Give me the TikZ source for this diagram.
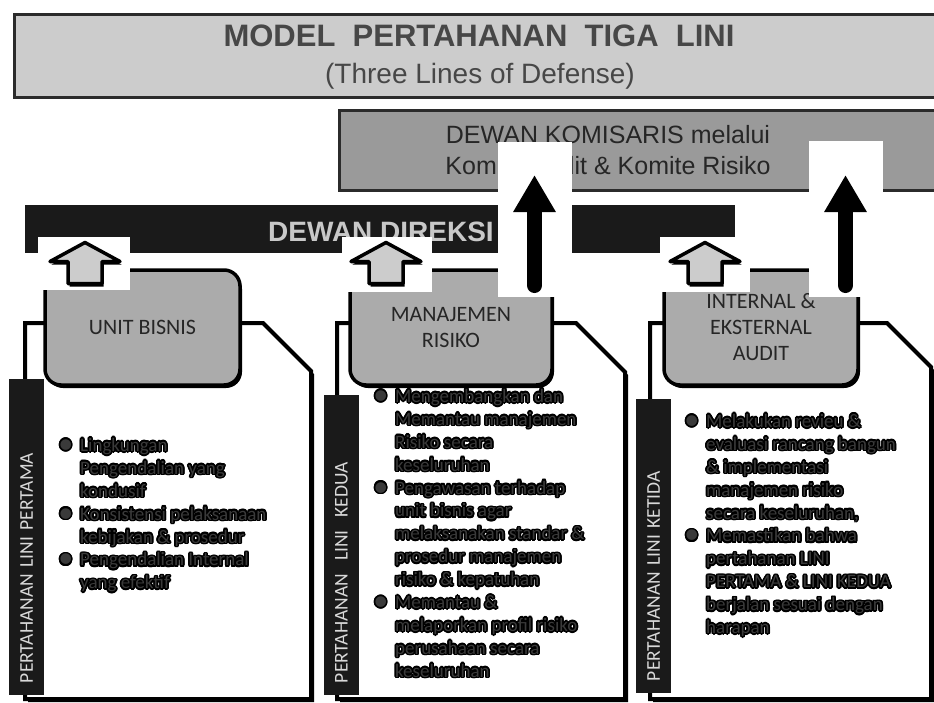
\documentclass[tikz,border=0pt]{standalone}
\usepackage{fontspec}
\setmainfont{Liberation Sans}
\newfontfamily\bodyfont{Carlito}
\usepackage{contour}
\contourlength{1.6pt}
\usetikzlibrary{arrows.meta,shadows}

\definecolor{titlegray}{HTML}{CCCCCC}
\definecolor{komgray}{HTML}{9A9A9A}
\definecolor{boxgray}{HTML}{ABABAB}
\definecolor{barblack}{HTML}{1A1A1A}
\definecolor{edgedark}{HTML}{2B2B2B}
\definecolor{titletext}{HTML}{474747}
\definecolor{textdark}{HTML}{262626}
\definecolor{labeltext}{HTML}{D9D9D9}
\definecolor{itemgray}{HTML}{3A3A3A}
\definecolor{direksitext}{HTML}{C8C8C8}

\newcommand{\glow}[1]{\contour{black}{#1}}
\newcommand{\bul}{\llap{\glow{\raisebox{-2pt}{\fontsize{30}{0}\selectfont •}}\hspace{7pt}}}

\begin{document}
\begin{tikzpicture}[
    x=1pt, y=-1pt,
    banner/.style={rectangle, draw=edgedark, line width=2.5pt, inner sep=0pt, anchor=north west},
    hbox/.style={rectangle, rounded corners=16pt, draw=black, line width=3.5pt, fill=boxgray, align=center,
        font=\bodyfont\fontsize{22}{26}\selectfont, text=textdark,
        drop shadow={shadow xshift=2pt, shadow yshift=-3pt, fill=black, opacity=1}},
    panel/.style={draw=black, line width=4pt, fill=white,
        drop shadow={shadow xshift=3pt, shadow yshift=-3pt, fill=black, opacity=1}},
    lbar/.style={rectangle, fill=barblack, rotate=90, minimum height=35pt, inner sep=0pt, align=left,
        font=\bodyfont\fontsize{19.5}{20}\selectfont, text=labeltext},
    items/.style={anchor=north west, inner sep=0pt, align=left,
        font=\bodyfont\fontsize{19}{22.9}\selectfont, text=itemgray},
    patch/.style={rectangle, fill=white, inner sep=0pt},
    uparrow/.style={draw=black, line width=3.5pt, fill=titlegray, line join=round,
        drop shadow={shadow xshift=1.5pt, shadow yshift=-3pt, fill=black, opacity=1}},
    toparrow/.style={line width=15pt, line cap=round, -{Triangle[width=40pt,length=37pt]}}
]
    \useasboundingbox (0,0) rectangle (934,702);

    % Title
    \node[banner, fill=titlegray, minimum width=950pt, minimum height=83pt] (tbox) at (13,13) {};
    \node[font=\bfseries\fontsize{31}{31}\selectfont, text=titletext] (ttl) at (479,36) {MODEL\ \ PERTAHANAN\ \ TIGA\ \ LINI};
    \node[font=\fontsize{28}{28}\selectfont, text=titletext] (sub) at (480,76) {(Three Lines of Defense)};

    % Dewan Komisaris
    \node[banner, fill=komgray, minimum width=620pt, minimum height=80pt] (kom) at (338,109) {};
    \node[inner sep=0pt, align=center, font=\fontsize{25}{31}\selectfont, text=textdark] (komtxt) at (608,150)
        {DEWAN KOMISARIS melalui\\Komite Audit \& Komite Risiko};

    % Dewan Direksi
    \node[rectangle, fill=barblack, inner sep=0pt, minimum width=710pt, minimum height=48pt, anchor=north west] (dir) at (25,205) {};
    \node[font=\bfseries\fontsize{28}{28}\selectfont, text=direksitext] (dirtxt) at (381,232) {DEWAN DIREKSI};

    % Panels
    \draw[panel] (42,323) -- (25,323) -- (25,699) -- (311,699) -- (311,371) -- (263,323) -- cycle;
    \draw[panel] (346,323) -- (337,323) -- (337,699) -- (625,699) -- (625,372) -- (576,323) -- cycle;
    \draw[panel] (662,323) -- (650,323) -- (650,699) -- (931,699) -- (931,367) -- (887,323) -- cycle;

    % Heads of the three lines
    \node[hbox, minimum width=195pt, minimum height=115pt] (ub) at (142.5,327.5) {UNIT BISNIS};
    \node[hbox, minimum width=202pt, minimum height=115pt] (mr) at (451,327.5) {MANAJEMEN\\RISIKO};
    \node[hbox, minimum width=194pt, minimum height=115pt] (ia) at (761,327.5) {INTERNAL \&\\EKSTERNAL\\AUDIT};

    % Side labels
    \node[lbar, minimum width=316pt, text width=292pt] (lb1) at (26.5,537) {PERTAHANAN LINI PERTAMA};
    \node[lbar, minimum width=300pt, text width=276pt] (lb2) at (341.5,545) {PERTAHANAN\ \ LINI\ \ KEDUA};
    \node[lbar, minimum width=294pt, text width=270pt] (lb3) at (653.5,546) {PERTAHANAN LINI KETIDA};

    % Bullet lists
    \node[items] (it1) at (80,438) {\bul\glow{Lingkungan}\\\glow{Pengendalian yang}\\\glow{kondusif}\\
        \bul\glow{Konsistensi pelaksanaan}\\\glow{kebijakan \& prosedur}\\
        \bul\glow{Pengendalian Internal}\\\glow{yang efektif}};
    \node[items] (it2) at (395,389) {\bul\glow{Mengembangkan dan}\\\glow{Memantau manajemen}\\\glow{Risiko secara}\\\glow{keseluruhan}\\
        \bul\glow{Pengawasan terhadap}\\\glow{unit bisnis agar}\\\glow{melaksanakan standar \&}\\\glow{prosedur manajemen}\\\glow{risiko \& kepatuhan}\\
        \bul\glow{Memantau \&}\\\glow{melaporkan profil risiko}\\\glow{perusahaan secara}\\\glow{keseluruhan}};
    \node[items] (it3) at (706,414) {\bul\glow{Melakukan revieu \&}\\\glow{evaluasi rancang bangun}\\\glow{\& implementasi}\\\glow{manajemen risiko}\\\glow{secara keseluruhan,}\\
        \bul\glow{Memastikan bahwa}\\\glow{pertahanan LINI}\\\glow{PERTAMA \& LINI KEDUA}\\\glow{berjalan sesuai dengan}\\\glow{harapan}};

    % Reporting to Direksi
    \node[patch, minimum width=92pt, minimum height=53pt] (wp1) at (84,263.5) {};
    \node[patch, minimum width=90pt, minimum height=55pt] (wp2) at (387,264.5) {};
    \node[patch, minimum width=90pt, minimum height=55pt] (wp3) at (705,264.5) {};
    \coordinate (ua1) at (85,242.5);
    \coordinate (ua2) at (386,242.5);
    \coordinate (ua3) at (705,242.5);
    \foreach \u in {ua1,ua2,ua3}
        \draw[uparrow] (\u) -- ++(35,19) -- ++(-18,0) -- ++(0,22) -- ++(-34,0) -- ++(0,-22) -- ++(-18,0) -- cycle;

    % Reporting to Komisaris
    \node[patch, minimum width=74pt, minimum height=155pt] (wk1) at (535,219.5) {};
    \node[patch, minimum width=74pt, minimum height=156pt] (wk2) at (846,219) {};
    \coordinate (ka1) at (534.5,285.5);
    \coordinate (kt1) at (534.5,175);
    \coordinate (ka2) at (845.5,285.5);
    \coordinate (kt2) at (845.5,175);
    \draw[toparrow] (ka1) -- (kt1);
    \draw[toparrow] (ka2) -- (kt2);
\end{tikzpicture}
\end{document}
